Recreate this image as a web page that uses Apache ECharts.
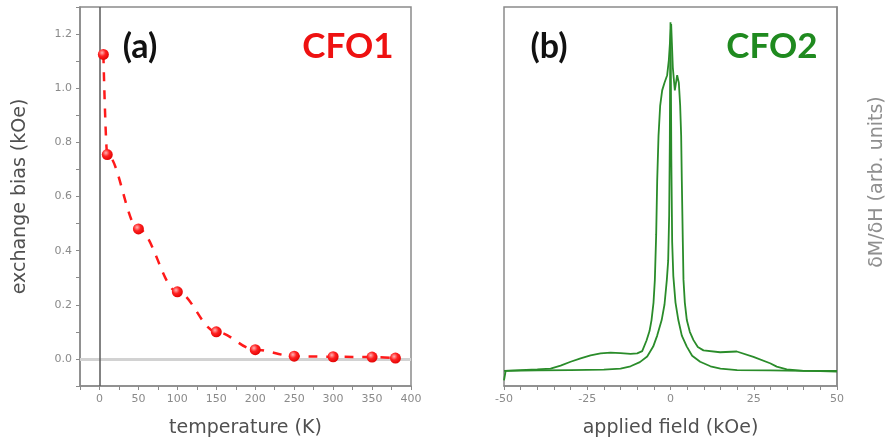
<!DOCTYPE html>
<html><head><meta charset="utf-8">
<script src="https://cdn.jsdelivr.net/npm/echarts@6/dist/echarts.min.js"></script>
<style>html,body{margin:0;padding:0;background:#fff}#c{width:888px;height:445px}</style>
</head><body><div id="c"></div>
<script>
// ---- data: panel (a) ----
const tempK = [5, 10, 50, 100, 150, 200, 250, 300, 350, 380];
const exchangeBias = [1.125, 0.755, 0.48, 0.248, 0.1, 0.034, 0.01, 0.008, 0.007, 0.003];
const tempTickLabels = [0, 50, 100, 150, 200, 250, 300, 350, 400];
const tempTicks = [-25, 0, 25, 50, 75, 100, 125, 150, 175, 200, 225, 250, 275, 300, 325, 350, 375, 400];
const biasTickLabels = [0, 0.2, 0.4, 0.6, 0.8, 1.0, 1.2];
const biasTicks = [-0.1, 0, 0.1, 0.2, 0.3, 0.4, 0.5, 0.6, 0.7, 0.8, 0.9, 1.0, 1.1, 1.2, 1.3];
// ---- data: panel (b) ----
const fieldOuter = [-50, -45, -40, -36, -33, -30, -27, -24, -21, -18, -15, -12, -10, -8.5, -7.2, -6.3, -5.7, -5.1, -4.7, -4.3, -4.0, -3.6, -3.1, -2.5, -1.8, -1.0, -0.5, 0.2, 0.7, 1.3, 2.0, 2.5, 2.9, 3.2, 3.4, 3.7, 3.9, 4.3, 4.9, 5.8, 6.9, 8.2, 9.9, 14.9, 19.9, 24.9, 29.9, 31.9, 34.9, 40, 45, 50];
const dmdhOuter = [4.0, 4.2, 4.4, 4.6, 5.4, 6.4, 7.3, 8.1, 8.6, 8.8, 8.7, 8.5, 8.6, 9.2, 12.0, 14.5, 17.4, 22, 28.0, 40, 54.0, 66, 74, 78, 80, 82, 86, 95.5, 84, 78, 82, 80, 74, 66, 54, 38, 28, 22, 17.4, 14.3, 12.1, 10.3, 9.4, 8.9, 9.1, 7.7, 6.0, 5.1, 4.4, 4.0, 3.9, 3.8];
const fieldInner = [-50, -49.5, -40, -30, -20, -15, -12, -9.2, -7, -5.2, -4, -2.65, -1.8, -1.1, -0.7, -0.4, -0.2, -0.1, 0, 0.1, 0.25, 0.5, 0.85, 1.5, 2.35, 3.4, 4.9, 6.5, 8.9, 12, 15, 20, 30, 40, 50];
const dmdhInner = [1.5, 4.0, 4.1, 4.2, 4.3, 4.6, 5.2, 6.3, 7.8, 10.4, 13.3, 17.4, 21.5, 28, 33, 45, 65, 85, 96, 84, 60, 38, 29, 22, 17.4, 13.3, 10.4, 8.0, 6.4, 5.2, 4.6, 4.2, 4.1, 4.0, 4.0];
const fieldTickLabels = [-50, -25, 0, 25, 50];

const zip = (a, b) => a.map((v, i) => [v, b[i]]);
const FONT = 'DejaVu Sans';
const tickLabel = {color: '#8a8a8a', fontSize: 11, fontFamily: FONT};
const nameStyle = {color: '#505050', fontSize: 19, fontFamily: FONT};
const AX = '#8a8a8a';

const chart = echarts.init(document.getElementById('c'), null, {renderer: 'canvas'});
chart.setOption({
  animation: false,
  grid: [
    {left: 80, top: 7, width: 331, height: 379, show: true, borderColor: AX, borderWidth: 1.5, containLabel: false},
    {left: 504, top: 7, width: 333, height: 379, show: true, borderColor: AX, borderWidth: 1.5, containLabel: false}
  ],
  xAxis: [
    {gridIndex: 0, type: 'value', min: -25, max: 400,
     name: 'temperature (K)', nameLocation: 'middle', nameGap: 33, nameTextStyle: nameStyle,
     axisLine: {show: true, onZero: false, lineStyle: {color: AX, width: 1.5}},
     axisTick: {show: true, customValues: tempTicks, length: 4, inside: false, lineStyle: {color: AX}},
     axisLabel: Object.assign({customValues: tempTickLabels, margin: 8}, tickLabel),
     splitLine: {show: false}},
    {gridIndex: 1, type: 'value', min: -50, max: 50, interval: 25,
     name: 'applied field (kOe)', nameLocation: 'middle', nameGap: 33, nameTextStyle: nameStyle,
     axisLine: {show: true, onZero: false, lineStyle: {color: AX, width: 1.5}},
     axisTick: {show: true, length: 4, lineStyle: {color: AX}},
     minorTick: {show: true, splitNumber: 5, length: 4, lineStyle: {color: AX}},
     axisLabel: Object.assign({customValues: fieldTickLabels, margin: 8}, tickLabel),
     splitLine: {show: false}, minorSplitLine: {show: false}}
  ],
  yAxis: [
    {gridIndex: 0, type: 'value', min: -0.1, max: 1.3,
     name: 'exchange bias (kOe)', nameLocation: 'middle', nameGap: 50, nameRotate: 90, nameTextStyle: nameStyle,
     axisLine: {show: true, onZero: false, lineStyle: {color: AX, width: 1.5}},
     axisTick: {show: true, customValues: biasTicks, length: 4, lineStyle: {color: AX}},
     axisLabel: Object.assign({customValues: biasTickLabels, margin: 8, formatter: v => v.toFixed(1)}, tickLabel),
     splitLine: {show: false}},
    {gridIndex: 1, type: 'value', min: 0, max: 100, position: 'right',
     axisLine: {show: true, onZero: false, lineStyle: {color: AX, width: 1.5}},
     axisTick: {show: false}, axisLabel: {show: false}, splitLine: {show: false}}
  ],
  series: [
    {type: 'line', xAxisIndex: 0, yAxisIndex: 0, data: zip(tempK, exchangeBias),
     smooth: 0.35, smoothMonotone: 'x',
     lineStyle: {color: '#ff1a1a', width: 2.5, type: [9, 9]},
     symbol: 'circle', symbolSize: 11,
     itemStyle: {color: {type: 'radial', x: 0.38, y: 0.35, r: 0.7,
       colorStops: [{offset: 0, color: '#ffb3b3'}, {offset: 0.45, color: '#ff2222'}, {offset: 1, color: '#e00000'}]}},
     z: 5,
     markLine: {silent: true, symbol: ['none', 'none'], label: {show: false},
       data: [
         {yAxis: 0, lineStyle: {color: '#d2d2d2', width: 3, type: 'solid'}},
         {xAxis: 0, lineStyle: {color: '#5a5a5a', width: 1.5, type: 'solid'}}
       ]}},
    {type: 'line', xAxisIndex: 1, yAxisIndex: 1, data: zip(fieldOuter, dmdhOuter),
     smooth: false, showSymbol: false,
     lineStyle: {color: '#2a8c2a', width: 1.8}},
    {type: 'line', xAxisIndex: 1, yAxisIndex: 1, data: zip(fieldInner, dmdhInner),
     smooth: false, showSymbol: false,
     lineStyle: {color: '#2a8c2a', width: 1.8}}
  ],
  graphic: [
    {type: 'text', x: 140, y: 47, style: {text: '(a)', fill: '#111', font: 'bold 34px Lato', textAlign: 'center', textVerticalAlign: 'middle'}},
    {type: 'text', x: 348, y: 47, style: {text: 'CFO1', fill: '#ee1111', font: 'bold 35px Lato', textAlign: 'center', textVerticalAlign: 'middle'}},
    {type: 'text', x: 549, y: 47, style: {text: '(b)', fill: '#111', font: 'bold 34px Lato', textAlign: 'center', textVerticalAlign: 'middle'}},
    {type: 'text', x: 772, y: 47, style: {text: 'CFO2', fill: '#1f8a1f', font: 'bold 35px Lato', textAlign: 'center', textVerticalAlign: 'middle'}},
    {type: 'text', x: 877, y: 182, rotation: Math.PI / 2,
     style: {text: 'δM/δH (arb. units)', fill: '#8f8f8f', font: '19px "DejaVu Sans"', textAlign: 'center', textVerticalAlign: 'middle'}}
  ]
});
</script></body></html>
